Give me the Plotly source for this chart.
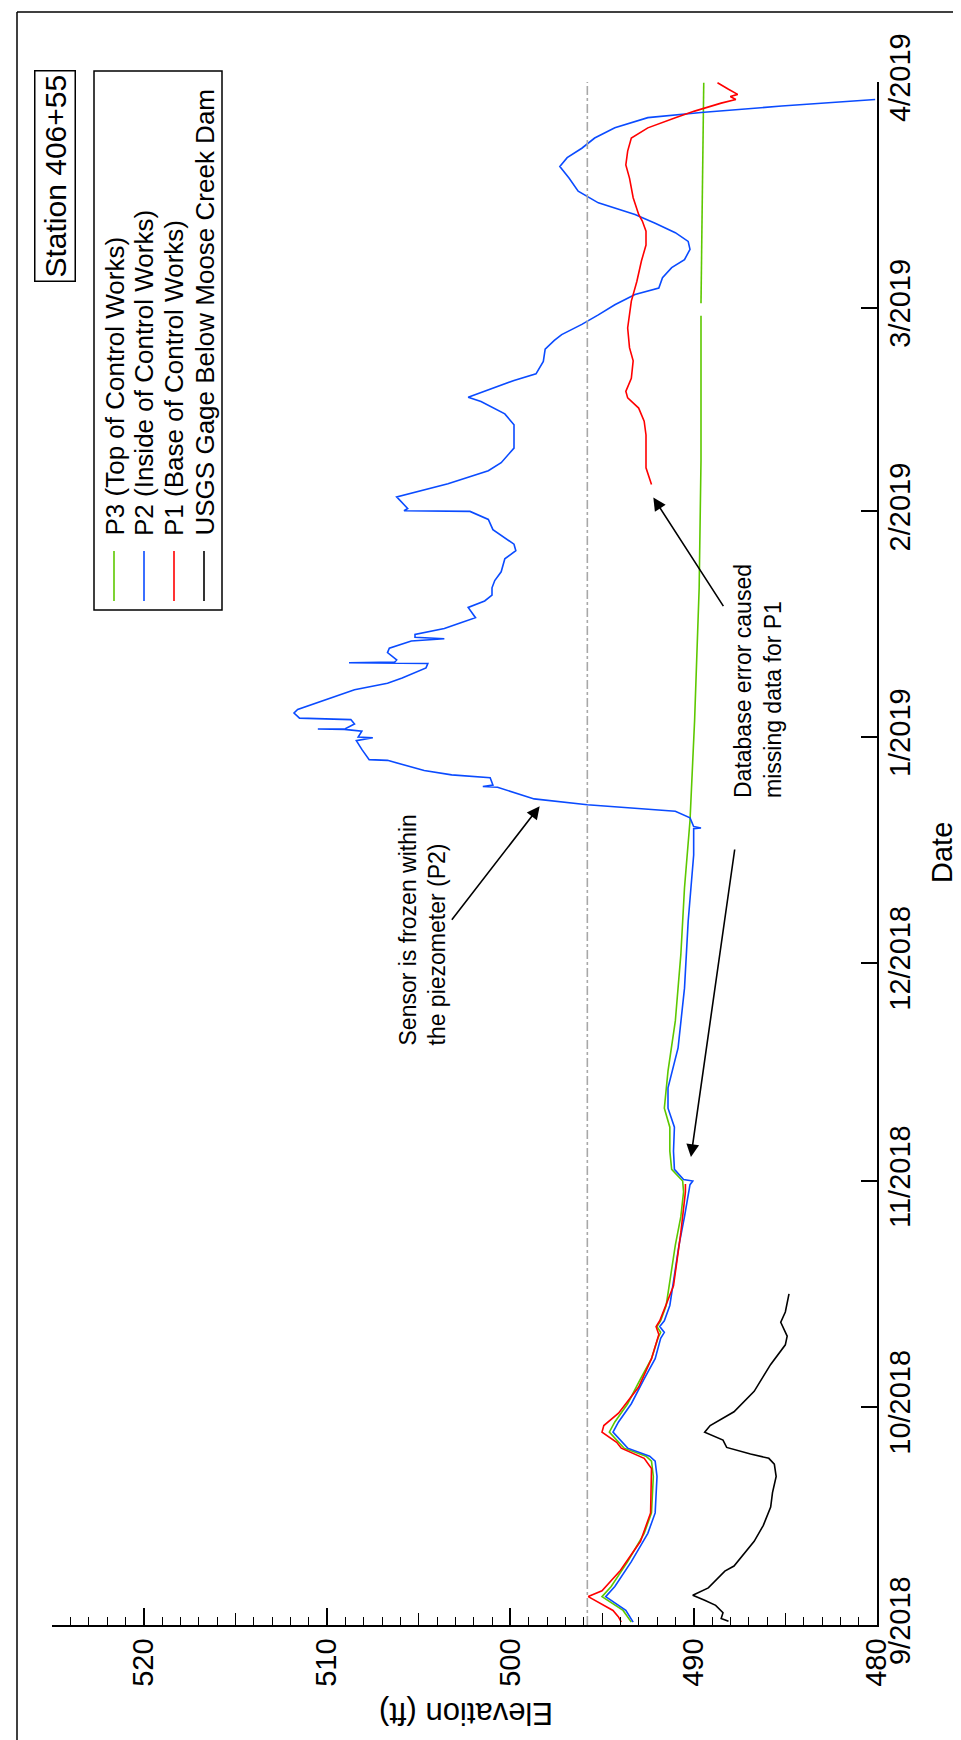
import plotly.graph_objects as go
import pandas as pd

START = pd.Timestamp("2018-09-01")

# ---------------- data (days since 2018-09-01, elevation ft) ----------------
p3_day = [0.4, 2.0, 3.9, 5.3, 8.7, 12.6, 15.4, 20.4, 22.5, 23.2, 24.3, 25.7, 26.5, 27.9,
          30.4, 33.8, 36.6, 39.4, 40.2, 41.0, 41.8, 43.9, 48.3, 52.2, 56.1, 59.5, 61.0,
          62.6, 65.1, 68.4, 71.0, 76.1, 83.0, 92.1, 101.3, 110.5, 124.2, 142.5, 160.0,
          179.9, None, 181.6, 195.0, 211.9]
p3_elev = [493.4, 493.85, 495.0, 494.5, 493.6, 492.7, 492.3, 492.2, 492.3, 492.6, 493.8,
           494.3, 494.6, 494.3, 493.6, 492.9, 492.3, 491.95, 491.8, 492.0, 491.8, 491.5,
           491.25, 491.0, 490.7, 490.55, 490.6, 491.2, 491.3, 491.3, 491.6, 491.4, 491.0,
           490.7, 490.5, 490.2, 489.95, 489.7, 489.6, 489.6, None, 489.6, 489.55, 489.45]

p2_day = [0.4, 2.0, 3.9, 5.3, 8.7, 12.6, 15.4, 20.4, 22.5, 23.2, 24.3, 25.7, 26.5, 27.9,
          30.4, 33.8, 36.6, 39.4, 40.2, 41.0, 41.8, 43.9, 48.3, 52.2, 56.1, 59.5, 60.5,
          61.0, 61.2, 62.6, 65.1, 68.4, 71.0, 73.8, 79.3, 87.5, 96.7, 105.8, 109.4, 109.5,
          109.7, 110.9, 111.8, 112.7, 113.5, 115.1, 115.2, 115.4, 116.4, 116.8, 117.4,
          118.8, 118.9, 120.3, 121.5, 121.9, 122.0, 122.8, 123.05, 123.1, 123.15, 123.8,
          124.4, 124.6, 125.3, 125.8, 126.9, 128.5, 129.4, 130.1, 131.5, 132.1, 132.2,
          132.3, 132.6, 133.6, 134.2, 135.2, 135.5, 135.7, 136.1, 136.9, 137.7, 138.4,
          139.8, 140.7, 141.5, 142.5, 143.5, 144.7, 146.5, 147.6, 148.5, 150.5, 151.9,
          153.0, 153.1, 153.4, 155.0, 156.8, 158.6, 159.7, 161.7, 164.9, 166.4, 168.1,
          168.7, 171.0, 171.9, 173.6, 175.3, 176.5, 177.3, 178.7, 180.0, 181.4, 182.8,
          183.7, 185.1, 186.5, 187.6, 189.0, 190.1, 191.3, 192.6, 193.8, 195.4, 197.0,
          198.8, 200.4, 201.6, 202.9, 204.3, 205.7, 207.1, 207.8, 208.7, 209.6]
p2_elev = [493.3, 493.7, 494.8, 494.3, 493.4, 492.5, 492.1, 492.0, 492.1, 492.4, 493.6,
           494.1, 494.4, 494.1, 493.4, 492.7, 492.1, 491.8, 491.6, 491.85, 491.6, 491.3,
           491.05, 490.8, 490.5, 490.3, 490.2, 490.05, 490.55, 491.05, 491.1, 491.05,
           491.4, 491.4, 490.85, 490.5, 490.3, 490.0, 490.0, 489.6, 490.0, 490.2, 491.0,
           495.8, 498.7, 500.7, 501.5, 500.95, 501.1, 503.2, 504.7, 506.7, 507.7, 508.1,
           508.4, 507.5, 508.3, 508.1, 509.05, 510.5, 509.0, 508.5, 508.7, 511.5, 511.8,
           511.6, 510.3, 508.5, 506.7, 505.9, 504.6, 504.5, 508.8, 506.3, 506.2, 506.7,
           506.6, 505.4, 503.6, 505.2, 505.2, 503.6, 502.7, 501.9, 502.3, 501.4, 501.0,
           501.0, 500.85, 500.5, 500.3, 499.7, 499.8, 500.95, 501.2, 502.2, 505.8, 505.6,
           506.2, 503.4, 501.2, 500.5, 499.8, 499.8, 500.3, 501.6, 502.3, 499.8, 498.6,
           498.2, 498.1, 497.6, 497.2, 496.1, 495.2, 494.3, 493.2, 491.9, 491.7, 491.2,
           490.5, 490.2, 490.3, 491.0, 492.1, 493.2, 495.2, 496.3, 496.8, 497.3, 496.9,
           496.1, 495.4, 494.3, 492.5, 489.6, 485.2, 480.1]

p1_day = [0.4, 1.1, 2.0, 3.2, 3.9, 4.7, 7.5, 11.5, 15.4, 21.5, 22.9, 24.3, 25.1, 26.5,
          27.4, 29.1, 32.7, 36.6, 39.9, 41.0, 41.8, 46.6, 53.9, 59.5, 60.6, None,
          156.7, 159.0, 163.5, 165.4, 167.2, 168.6, 169.5, 171.3, 173.7, 175.5, 178.2,
          181.9, 184.6, 187.4, 189.6, 191.5, 192.9, 193.8, 196.1, 198.8, 200.6, 202.5,
          204.3, 205.7, 207.1, 208.0, 209.1, 209.6, 210.0, 210.3, 211.0, 211.9]
p1_elev = [493.95, 494.1, 494.4, 495.3, 495.75, 495.0, 494.0, 492.9, 492.35, 492.3, 492.7,
           493.95, 494.2, 495.0, 494.9, 494.1, 493.0, 492.3, 491.9, 492.05, 491.85, 491.1,
           490.7, 490.45, 490.45, None,
           492.3, 492.6, 492.6, 492.7, 493.0, 493.6, 493.7, 493.4, 493.3, 493.5, 493.6,
           493.4, 493.1, 492.85, 492.6, 492.6, 492.8, 493.0, 493.3, 493.5, 493.7, 493.6,
           493.4, 492.5, 491.0, 489.95, 488.5, 487.7, 488.0, 487.6, 488.1, 488.7]

usgs_day = [0.5, 0.9, 1.7, 2.7, 3.4, 4.1, 5.1, 7.4, 8.1, 11.5, 13.7, 16.2, 18.2, 20.4,
            22.1, 22.9, 23.5, 24.4, 25.4, 26.0, 26.5, 27.4, 29.3, 32.1, 35.8, 38.5, 39.7,
            41.6, 43.0, 45.5]
usgs_elev = [488.1, 488.5, 488.4, 488.8, 489.4, 490.05, 489.2, 488.3, 487.8, 486.7, 486.2,
             485.8, 485.7, 485.5, 485.6, 485.9, 486.9, 488.2, 488.4, 488.9, 489.4, 489.1,
             487.8, 486.7, 485.8, 485.0, 484.9, 485.25, 485.0, 484.8]

reference_elev = 495.8
series_names = ["P3 (Top of Control Works)", "P2 (Inside of Control Works)",
                "P1 (Base of Control Works)", "USGS Gage Below Moose Creek Dam"]
series_colors = ["#5DC800", "#0A4BFF", "#FF0000", "#000000"]
x_tickvals = [480, 490, 500, 510, 520]
date_range = ["2018-09-01", "2019-04-01"]
elev_range = [525, 480]
station_label = "Station 406+55"


def to_dates(days):
    return [None if d is None else START + pd.Timedelta(days=d) for d in days]


FONT = "Liberation Sans, Arial, Helvetica, sans-serif"
W, H = 961, 1740
L, R, T, B = 44, 869, 74, 1617


def px(x):
    return (x - L) / (R - L)


def py(y):
    return (B - y) / (B - T)


fig = go.Figure()
series = [(p3_day, p3_elev), (p2_day, p2_elev), (p1_day, p1_elev), (usgs_day, usgs_elev)]
for (d, e), name, col in zip(series, series_names, series_colors):
    fig.add_trace(go.Scatter(x=e, y=to_dates(d), mode="lines", name=name,
                             line=dict(color=col, width=1.6), connectgaps=False))

fig.add_trace(go.Scatter(x=[reference_elev, reference_elev], y=date_range, mode="lines",
                         xaxis="x2", line=dict(color="#A8A8A8", width=1.6, dash="dashdot"),
                         showlegend=False))

fig.update_layout(
    width=W, height=H, autosize=False,
    margin=dict(l=L, r=W - R, t=T, b=H - B, pad=0),
    paper_bgcolor="white", plot_bgcolor="white", showlegend=False,
    font=dict(family=FONT, color="black"),
    xaxis=dict(range=elev_range, tickvals=x_tickvals, ticks="inside", ticklen=17,
               tickwidth=1.5, tickcolor="black", showline=True, linecolor="black",
               linewidth=1.6, showgrid=False, zeroline=False, tickangle=-90,
               tickfont=dict(size=29, family=FONT), automargin=False,
               minor=dict(dtick=1, ticks="inside", ticklen=8, tickwidth=1.2,
                          tickcolor="black", showgrid=False)),
    xaxis2=dict(range=elev_range, overlaying="x", anchor="y", side="bottom",
                dtick=5, tick0=480, ticks="inside", ticklen=12, tickwidth=1.3,
                tickcolor="black", showticklabels=False, showline=False,
                showgrid=False, zeroline=False, automargin=False),
    yaxis=dict(type="date", range=date_range, side="right", dtick="M1",
               tick0="2018-09-01", tickformat="%-m/%Y", ticks="inside", ticklen=16,
               tickwidth=1.5, tickcolor="black", showline=True, linecolor="black",
               linewidth=1.6, showgrid=False, zeroline=False, tickangle=-90,
               ticklabelstandoff=-4,
               tickfont=dict(size=29, family=FONT), automargin=False),
)

shapes = [
    dict(type="line", xref="paper", yref="paper", x0=px(9), x1=px(9), y0=py(H), y1=py(4),
         line=dict(color="black", width=1.5)),
    dict(type="line", xref="paper", yref="paper", x0=px(9), x1=px(W), y0=py(4), y1=py(4),
         line=dict(color="black", width=1.5)),
    dict(type="rect", xref="paper", yref="paper", x0=px(86), x1=px(214), y0=py(602),
         y1=py(63), line=dict(color="black", width=1.5), fillcolor="white"),
]
annotations = []
for i, (name, col) in enumerate(zip(series_names, series_colors)):
    xc = 106 + 30 * i
    shapes.append(dict(type="line", xref="paper", yref="paper", x0=px(xc), x1=px(xc),
                       y0=py(593), y1=py(543), line=dict(color=col, width=1.6)))
    annotations.append(dict(xref="paper", yref="paper", x=px(xc), y=py(530), text=name,
                            textangle=-90, showarrow=False, xanchor="center",
                            yanchor="bottom", font=dict(size=26, family=FONT)))

annotations += [
    dict(xref="paper", yref="paper", x=px(47), y=py(168), text=station_label,
         textangle=-90, showarrow=False, xanchor="center", yanchor="middle",
         font=dict(size=30, family=FONT), bordercolor="black", borderwidth=1.5,
         borderpad=3, bgcolor="white"),
    dict(xref="paper", yref="paper", x=px(458), y=py(1706), text="Elevation (ft)",
         textangle=180, showarrow=False, xanchor="center", yanchor="middle",
         font=dict(size=31, family=FONT)),
    dict(xref="paper", yref="paper", x=px(934), y=py(845), text="Date",
         textangle=-90, showarrow=False, xanchor="center", yanchor="middle",
         font=dict(size=29, family=FONT)),
    dict(xref="paper", yref="paper", x=px(414), y=py(1040),
         text="Sensor is frozen within<br>the piezometer (P2)", align="left",
         textangle=-90, showarrow=False, xanchor="center", yanchor="bottom",
         font=dict(size=23, family=FONT)),
    dict(xref="paper", yref="paper", x=px(750), y=py(792),
         text="Database error caused<br>missing data for P1", align="left",
         textangle=-90, showarrow=False, xanchor="center", yanchor="bottom",
         font=dict(size=23, family=FONT)),
]

# arrows: head at data point, tail offsets in pixels
arrows = [(498.4, 112.5, -89, 115), (492.2, 154.9, 71, 110), (490.15, 64.3, 44, -309)]
for e, d, ax, ay in arrows:
    annotations.append(dict(x=e, y=START + pd.Timedelta(days=d), xref="x", yref="y",
                            text="", showarrow=True, ax=ax, ay=ay, arrowhead=2,
                            arrowsize=1.6, arrowwidth=1.6, arrowcolor="black"))

fig.update_layout(shapes=shapes, annotations=annotations)
fig.write_html("out.html")
